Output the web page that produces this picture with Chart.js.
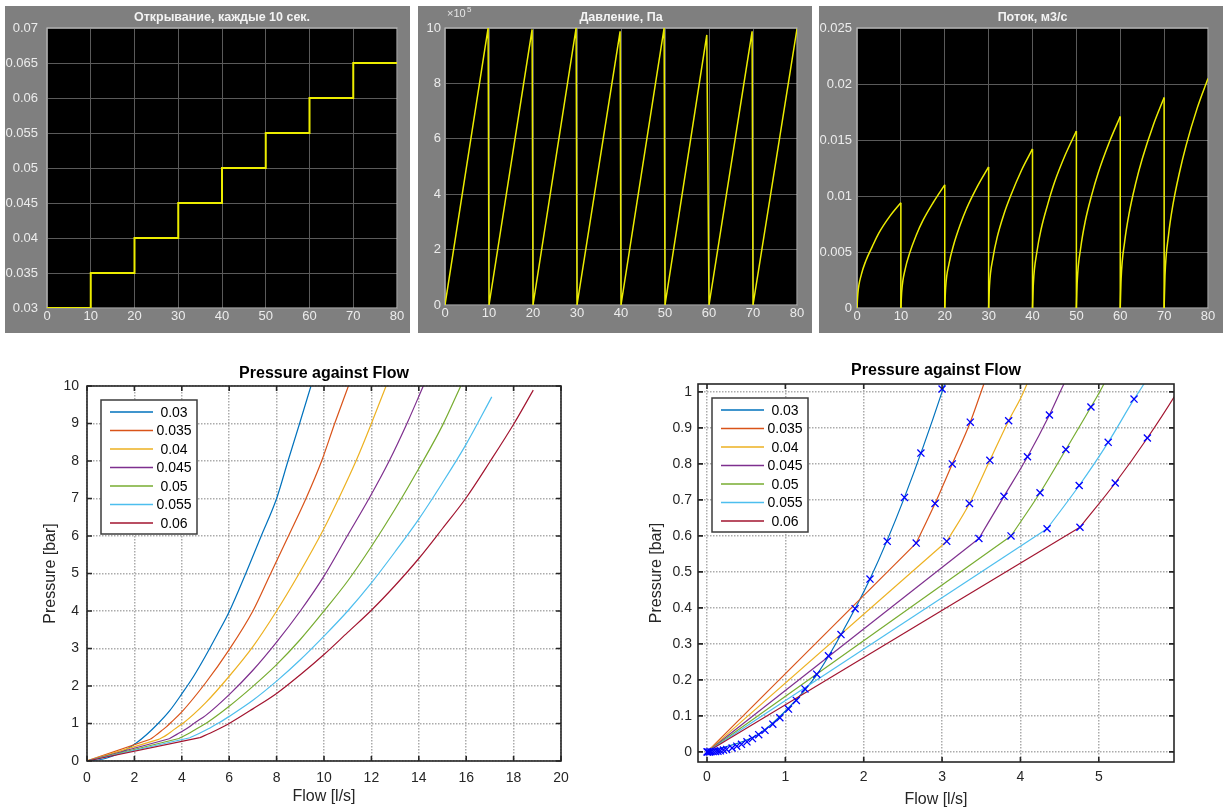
<!DOCTYPE html>
<html>
<head>
<meta charset="utf-8">
<script src="https://cdn.jsdelivr.net/npm/chart.js@4.4.1/dist/chart.umd.min.js"></script>
<style>
  body { margin: 0; background: #fff; width: 1223px; height: 812px; position: relative; overflow: hidden; }
  .panel { position: absolute; background: #7f7f7f; }
  canvas { position: absolute; }
</style>
</head>
<body>
<div class="panel" style="left:5px;top:6px;width:405px;height:327px"><canvas id="open" width="405" height="327"></canvas></div>
<div class="panel" style="left:418px;top:6px;width:394px;height:327px"><canvas id="press" width="394" height="327"></canvas></div>
<div class="panel" style="left:819px;top:6px;width:404px;height:327px"><canvas id="flow" width="404" height="327"></canvas></div>
<canvas id="pf" width="600" height="472" style="left:0;top:340px"></canvas>
<canvas id="pfZoom" width="613" height="472" style="left:610px;top:340px"></canvas>
<script>
// valve opening, one step every 10 s
const openT = [0, 10, 20, 30, 40, 50, 60, 70, 80];
const openV = [0.03, 0.035, 0.04, 0.045, 0.05, 0.055, 0.06, 0.065, 0.065];
const openTicks = [0.03, 0.035, 0.04, 0.045, 0.05, 0.055, 0.06, 0.065, 0.07];

// pressure, x10^5 Pa
const pressT = [0, 9.8, 10, 19.8, 20, 29.8, 30, 39.8, 40, 49.8, 50, 59.5, 60, 69.8, 70, 80];
const pressP = [0, 10, 0, 9.95, 0, 10, 0, 9.88, 0, 10, 0, 9.75, 0, 9.88, 0, 9.97];
const pressTicks = [0, 2, 4, 6, 8, 10];

// flow, m3/s (8 samples per 10 s interval)
const flowT = [
  0, 0.2, 1, 2, 3.5, 5, 7.5, 10,
  10, 10.2, 11, 12, 13.5, 15, 17.5, 20,
  20, 20.2, 21, 22, 23.5, 25, 27.5, 30,
  30, 30.2, 31, 32, 33.5, 35, 37.5, 40,
  40, 40.2, 41, 42, 43.5, 45, 47.5, 50,
  50, 50.2, 51, 52, 53.5, 55, 57.5, 60,
  60, 60.2, 61, 62, 63.5, 65, 67.5, 70,
  70, 70.2, 71, 72, 73.5, 75, 77.5, 80
];
const flowQ = [
  0, 0.0013, 0.003, 0.0042, 0.0055, 0.0067, 0.0082, 0.0094,
  0, 0.0015, 0.0035, 0.0049, 0.0065, 0.0078, 0.0095, 0.0110,
  0, 0.0018, 0.004, 0.0056, 0.0074, 0.0089, 0.0109, 0.0126,
  0, 0.002, 0.0045, 0.0064, 0.0084, 0.0100, 0.0123, 0.0142,
  0, 0.0022, 0.005, 0.0071, 0.0093, 0.0112, 0.0137, 0.0158,
  0, 0.0024, 0.0054, 0.0077, 0.0101, 0.0121, 0.0148, 0.0171,
  0, 0.0026, 0.0059, 0.0084, 0.0111, 0.0133, 0.0163, 0.0188,
  0, 0.0029, 0.0065, 0.0092, 0.0121, 0.0145, 0.0178, 0.0205
];
const flowTicks = [0, 0.005, 0.01, 0.015, 0.02, 0.025];
const timeTicks = [0, 10, 20, 30, 40, 50, 60, 70, 80];

// pressure against flow, one curve per opening
const openings = ['0.03', '0.035', '0.04', '0.045', '0.05', '0.055', '0.06'];
const flow03 = [0, 0.64, 1.03, 1.40, 1.71, 2.08, 2.52, 3.0, 3.5, 4.0, 4.5, 5.0, 5.5, 6.0, 6.7, 7.35, 8.0, 8.48, 8.97, 9.45];
const pres03 = [0, 0.047, 0.12, 0.214, 0.326, 0.48, 0.707, 1.0, 1.35, 1.79, 2.26, 2.8, 3.38, 3.98, 5.0, 6.0, 7.0, 8.0, 9.0, 10.0];
const flow035 = [0, 2.67, 2.91, 3.13, 3.36, 3.53, 4.0, 5.0, 6.0, 7.0, 7.75, 8.5, 9.24, 9.9, 10.45, 11.03];
const pres035 = [0, 0.58, 0.69, 0.80, 0.916, 1.02, 1.31, 2.08, 2.97, 4.0, 5.0, 6.0, 7.0, 8.0, 9.0, 10.0];
const flow04 = [0, 3.06, 3.35, 3.61, 3.85, 4.04, 5.0, 6.0, 7.0, 8.0, 8.95, 10.0, 10.62, 11.35, 12.0, 12.62];
const pres04 = [0, 0.585, 0.69, 0.81, 0.92, 1.0, 1.55, 2.26, 3.05, 4.0, 5.0, 6.2, 7.0, 8.0, 9.0, 10.0];
const flow045 = [0, 3.47, 3.79, 4.09, 4.37, 4.55, 5.0, 6.0, 7.0, 8.0, 9.0, 10.0, 10.98, 11.9, 12.75, 13.5, 14.19];
const pres045 = [0, 0.593, 0.71, 0.82, 0.936, 1.02, 1.21, 1.77, 2.42, 3.17, 4.0, 4.93, 6.0, 7.0, 8.0, 9.0, 10.0];
const flow05 = [0, 3.88, 4.25, 4.58, 4.90, 5.06, 6, 7, 8, 9, 10, 11, 12, 13, 14, 15, 15.77];
const pres05 = [0, 0.60, 0.72, 0.84, 0.958, 1.02, 1.46, 1.99, 2.57, 3.24, 4.0, 4.8, 5.72, 6.72, 7.8, 8.95, 10.0];
const flow055 = [0, 4.34, 4.75, 5.12, 5.45, 5.57, 6, 7, 8, 9, 10, 11, 12, 13, 14, 15, 16, 17.08];
const pres055 = [0, 0.62, 0.74, 0.86, 0.98, 1.02, 1.19, 1.62, 2.13, 2.7, 3.33, 4.0, 4.75, 5.58, 6.45, 7.42, 8.45, 9.71];
const flow06 = [0, 4.76, 5.21, 5.62, 6, 7, 8, 9, 10, 11, 12, 13, 14, 15, 16, 17, 18, 18.83];
const pres06 = [0, 0.624, 0.747, 0.872, 1.0, 1.39, 1.8, 2.3, 2.84, 3.43, 4.02, 4.68, 5.4, 6.2, 7.02, 7.98, 8.98, 9.89];
const flows = [flow03, flow035, flow04, flow045, flow05, flow055, flow06];
const pressures = [pres03, pres035, pres04, pres045, pres05, pres055, pres06];
// index of the point where the straight start of each curve ends
const kneeIdx = [0, 1, 1, 1, 1, 1, 1];
const seriesColors = ['#0072BD', '#D95319', '#EDB120', '#7E2F8E', '#77AC30', '#4DBEEE', '#A2142F'];

// sampled points shown as crosses on the zoomed plot
const markFlow = [0, 0.01, 0.03, 0.05, 0.08, 0.11, 0.14, 0.17, 0.21, 0.25, 0.32, 0.38, 0.44, 0.51, 0.58, 0.66, 0.74, 0.84, 0.93, 1.04, 1.14, 1.25, 1.40, 1.55, 1.71, 1.89, 2.08, 2.30, 2.52, 2.73, 3.0,
  2.67, 2.91, 3.13, 3.36,
  3.06, 3.35, 3.61, 3.85,
  3.47, 3.79, 4.09, 4.37,
  3.88, 4.25, 4.58, 4.90,
  4.34, 4.75, 5.12, 5.45,
  4.76, 5.21, 5.62];
const markPres = [0, 0, 0, 0.0005, 0.001, 0.0015, 0.002, 0.003, 0.005, 0.007, 0.011, 0.016, 0.021, 0.028, 0.037, 0.048, 0.06, 0.077, 0.095, 0.119, 0.143, 0.175, 0.216, 0.267, 0.326, 0.398, 0.48, 0.585, 0.707, 0.83, 1.008,
  0.58, 0.69, 0.80, 0.916,
  0.585, 0.69, 0.81, 0.92,
  0.593, 0.71, 0.82, 0.936,
  0.60, 0.72, 0.84, 0.958,
  0.62, 0.74, 0.86, 0.98,
  0.624, 0.747, 0.872];

const pfXTicks = [0, 2, 4, 6, 8, 10, 12, 14, 16, 18, 20];
const pfYTicks = [0, 1, 2, 3, 4, 5, 6, 7, 8, 9, 10];
const zoomXTicks = [0, 1, 2, 3, 4, 5];
const zoomYTicks = [0, 0.1, 0.2, 0.3, 0.4, 0.5, 0.6, 0.7, 0.8, 0.9, 1];

Chart.defaults.font.family = '"Liberation Sans", Arial, sans-serif';

const pts = (xs, ys) => xs.map((x, i) => ({x: x, y: ys[i]}));
const fixTicks = (list) => (s) => { s.ticks = list.map(v => ({value: v})); };

// black plot area for the scope panels
const plotBg = {
  id: 'plotBg',
  beforeDraw(chart, args, opts) {
    if (!opts.color) return;
    const {ctx, chartArea: a} = chart;
    ctx.save();
    ctx.fillStyle = opts.color;
    ctx.fillRect(a.left, a.top, a.right - a.left, a.bottom - a.top);
    ctx.restore();
  }
};

// axes box, inward ticks and the exponent label
function drawBox(chart, opts) {
  const {ctx, chartArea: a, scales} = chart;
  ctx.save();
  ctx.strokeStyle = opts.color;
  ctx.lineWidth = opts.width;
  ctx.strokeRect(a.left, a.top, a.right - a.left, a.bottom - a.top);
  if (opts.tick) {
    ctx.beginPath();
    scales.x.ticks.forEach(t => {
      const x = scales.x.getPixelForValue(t.value);
      ctx.moveTo(x, a.bottom); ctx.lineTo(x, a.bottom - opts.tick);
      ctx.moveTo(x, a.top); ctx.lineTo(x, a.top + opts.tick);
    });
    scales.y.ticks.forEach(t => {
      const y = scales.y.getPixelForValue(t.value);
      ctx.moveTo(a.left, y); ctx.lineTo(a.left + opts.tick, y);
      ctx.moveTo(a.right, y); ctx.lineTo(a.right - opts.tick, y);
    });
    ctx.stroke();
  }
  if (opts.exponent) {
    ctx.fillStyle = opts.labelColor;
    ctx.font = '11px "Liberation Sans", Arial, sans-serif';
    ctx.fillText('\u00d710', a.left + 2, a.top - 11);
    ctx.font = '8px "Liberation Sans", Arial, sans-serif';
    ctx.fillText(opts.exponent, a.left + 22, a.top - 16);
  }
  ctx.restore();
}
const axesBox = {
  id: 'axesBox',
  beforeDatasetsDraw(chart, args, opts) {
    if (opts.color && opts.under) drawBox(chart, opts);
  },
  afterDatasetsDraw(chart, args, opts) {
    if (opts.color && !opts.under) drawBox(chart, opts);
  }
};

// legend box placed inside the plot area
const boxLegend = {
  id: 'boxLegend',
  afterDraw(chart, args, opts) {
    if (!opts.show) return;
    const {ctx, chartArea: a} = chart;
    const items = chart.data.datasets.filter(d => !d.legendSkip);
    const x0 = a.left + opts.x, y0 = a.top + opts.y;
    ctx.save();
    ctx.fillStyle = '#fff';
    ctx.fillRect(x0, y0, 96, 134);
    ctx.strokeStyle = '#3c3c3c';
    ctx.lineWidth = 1.5;
    ctx.strokeRect(x0, y0, 96, 134);
    ctx.font = '14px "Liberation Sans", Arial, sans-serif';
    ctx.textAlign = 'center';
    ctx.textBaseline = 'middle';
    items.forEach((d, i) => {
      const y = y0 + 12 + i * 18.5;
      ctx.strokeStyle = d.borderColor;
      ctx.lineWidth = 1.5;
      ctx.beginPath();
      ctx.moveTo(x0 + 9, y); ctx.lineTo(x0 + 52, y);
      ctx.stroke();
      ctx.fillStyle = '#000';
      ctx.fillText(d.label, x0 + 73, y + 1);
    });
    ctx.restore();
  }
};

Chart.register(plotBg, axesBox, boxLegend);

function scopeSet(data, extra) {
  return Object.assign({
    data: data,
    showLine: true,
    borderColor: '#ecec00',
    borderWidth: 1.5,
    pointRadius: 0
  }, extra || {});
}

function scopeChart(id, datasets, o) {
  return new Chart(document.getElementById(id), {
    type: 'scatter',
    data: { datasets: datasets },
    options: {
      responsive: false,
      animation: false,
      layout: { padding: { left: 0, top: 0, bottom: 0, right: o.padRight } },
      plugins: {
        legend: { display: false },
        tooltip: { enabled: false },
        title: {
          display: true, text: o.title, color: '#f4f4f4', fullSize: false,
          font: { size: 12.5, weight: 'bold' }, padding: { top: 4, bottom: 3 }
        },
        plotBg: { color: '#000' },
        axesBox: { color: '#c8c8c8', width: 1, under: true, exponent: o.exponent, labelColor: '#e6e6e6' }
      },
      scales: {
        x: {
          type: 'linear', min: 0, max: 80,
          afterBuildTicks: fixTicks(timeTicks),
          ticks: { color: '#ececec', font: { size: 13 }, padding: 1, maxRotation: 0, callback: v => String(v) },
          grid: { color: '#5a5a5a', drawTicks: false },
          border: { display: false },
          afterFit: s => { s.height = o.xH; }
        },
        y: {
          type: 'linear', min: o.yMin, max: o.yMax,
          afterBuildTicks: fixTicks(o.yTicks),
          ticks: { color: '#ececec', font: { size: 13 }, padding: o.yPad, callback: v => String(v) },
          grid: { color: '#5a5a5a', drawTicks: false },
          border: { display: false },
          afterFit: s => { s.width = o.yW; }
        }
      }
    }
  });
}

function curveChart(id, o) {
  const datasets = [];
  openings.forEach((name, i) => {
    const all = pts(flows[i], pressures[i]);
    const k = kneeIdx[i];
    // straight start up to the knee
    if (k > 0) {
      datasets.push({
        label: name, legendSkip: true, data: all.slice(0, k + 1),
        showLine: true, borderColor: seriesColors[i], borderWidth: 1.2, pointRadius: 0, order: 6 - i
      });
    }
    datasets.push({
      label: name, data: all.slice(k),
      showLine: true, cubicInterpolationMode: 'monotone',
      borderColor: seriesColors[i], borderWidth: 1.2, pointRadius: 0, order: 6 - i
    });
  });
  if (o.marks) {
    datasets.push({
      label: 'samples',
      legendSkip: true,
      data: pts(markFlow, markPres),
      showLine: false,
      pointStyle: 'crossRot',
      pointRadius: 5,
      borderColor: '#0000ff',
      borderWidth: 1.3,
      order: -1
    });
  }
  const axisFont = { size: 14 };
  return new Chart(document.getElementById(id), {
    type: 'scatter',
    data: { datasets: datasets },
    options: {
      responsive: false,
      animation: false,
      layout: { padding: { left: 0, top: 0, bottom: 0, right: o.padRight } },
      plugins: {
        legend: { display: false },
        tooltip: { enabled: false },
        title: {
          display: true, text: 'Pressure against Flow', color: '#000', fullSize: false,
          font: { size: 16, weight: 'bold' }, padding: o.titlePad
        },
        axesBox: { color: '#262626', width: 1.6, tick: 5 },
        boxLegend: { show: true, x: 14, y: 14 }
      },
      scales: {
        x: {
          type: 'linear', min: o.xMin, max: o.xMax,
          afterBuildTicks: fixTicks(o.xTicks),
          ticks: { color: '#262626', font: axisFont, padding: o.xPad, maxRotation: 0, callback: v => String(v) },
          grid: { color: '#ababab', lineWidth: 1.5, drawTicks: false },
          border: { display: false, dash: [1.5, 1.5] },
          title: { display: true, text: 'Flow [l/s]', color: '#262626', font: { size: 16 }, padding: { top: 0, bottom: o.xTitlePad } },
          afterFit: s => { s.height = o.xH; }
        },
        y: {
          type: 'linear', min: o.yMin, max: o.yMax,
          afterBuildTicks: fixTicks(o.yTicks),
          ticks: { color: '#262626', font: axisFont, padding: o.yPad, callback: v => String(v) },
          grid: { color: '#ababab', lineWidth: 1.5, drawTicks: false },
          border: { display: false, dash: [1.5, 1.5] },
          title: { display: true, text: 'Pressure [bar]', color: '#262626', font: { size: 16 }, padding: { top: o.yTitlePad, bottom: 0 } },
          afterFit: s => { s.width = o.yW; }
        }
      }
    }
  });
}

scopeChart('open', [scopeSet(pts(openT, openV), { stepped: 'before', borderWidth: 2 })], {
  title: 'Открывание, каждые 10 сек.',
  yMin: 0.03, yMax: 0.07, yTicks: openTicks, yW: 42, yPad: 9, xH: 25, padRight: 13
});

scopeChart('press', [scopeSet(pts(pressT, pressP))], {
  title: 'Давление, Па', exponent: '5',
  yMin: 0, yMax: 10, yTicks: pressTicks, yW: 27, yPad: 4, xH: 28, padRight: 15
});

// each 10 s interval is its own smooth curve, joined by the vertical drops
const flowSets = [];
const drops = [];
for (let k = 0; k < flowT.length; k += 8) {
  flowSets.push(scopeSet(pts(flowT.slice(k, k + 8), flowQ.slice(k, k + 8)), { cubicInterpolationMode: 'monotone' }));
  const end = k + 7;
  if (end < flowT.length - 1) {
    drops.push({x: flowT[end], y: flowQ[end]}, {x: flowT[end], y: 0}, {x: flowT[end], y: NaN});
  }
}
flowSets.push(scopeSet(drops, { spanGaps: false }));
scopeChart('flow', flowSets, {
  title: 'Поток, м3/с',
  yMin: 0, yMax: 0.025, yTicks: flowTicks, yW: 38, yPad: 5, xH: 25, padRight: 15
});

curveChart('pf', {
  xMin: 0, xMax: 20, yMin: 0, yMax: 10, xTicks: pfXTicks, yTicks: pfYTicks,
  yW: 87, xH: 51, padRight: 39, xPad: 9, yPad: 8, xTitlePad: 5.4, yTitlePad: 41.4,
  titlePad: { top: 24.4, bottom: 2.4 }
});
curveChart('pfZoom', {
  marks: true,
  xMin: -0.115, xMax: 5.96, yMin: -0.028, yMax: 1.022, xTicks: zoomXTicks, yTicks: zoomYTicks,
  yW: 88, xH: 50, padRight: 49, xPad: 7, yPad: 6, xTitlePad: 2.4, yTitlePad: 37.4,
  titlePad: { top: 21.4, bottom: 3.4 }
});
</script>
</body>
</html>
